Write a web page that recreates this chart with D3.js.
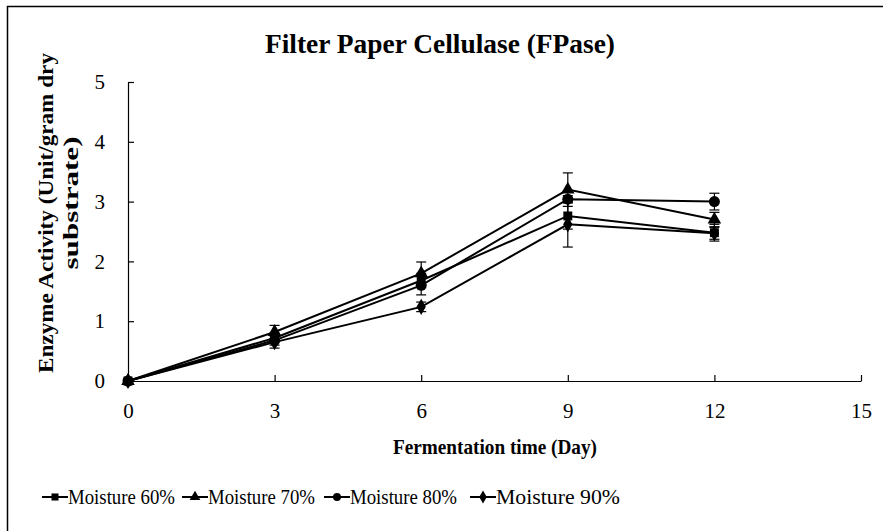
<!DOCTYPE html>
<html><head><meta charset="utf-8">
<script src="https://cdn.jsdelivr.net/npm/d3@7"></script>
<style>body{margin:0;background:#fff}svg{display:block}text{font-family:"Liberation Serif","Times New Roman",serif;fill:#000}</style>
</head><body><svg id="c" width="883" height="531"></svg>
<script>
const days = [0, 3, 6, 9, 12];
const seriesNames = ["Moisture 60%", "Moisture 70%", "Moisture 80%", "Moisture 90%"];
const symbols = ["square", "triangle", "circle", "diamond"];
const m60 = [0, 0.72, 1.68, 2.76, 2.48];
const m70 = [0, 0.82, 1.80, 3.20, 2.70];
const m80 = [0, 0.68, 1.60, 3.04, 3.00];
const m90 = [0, 0.65, 1.24, 2.62, 2.47];
const e60 = [0.03, 0.08, 0.12, 0.22, 0.14];
const e70 = [0.03, 0.11, 0.19, 0.28, 0.12];
const e80 = [0.03, 0.08, 0.16, 0.06, 0.14];
const e90 = [0.03, 0.10, 0.08, 0.38, 0.10];
const xTicks = [0, 3, 6, 9, 12, 15];
const yTicks = [0, 1, 2, 3, 4, 5];
const values = [m60, m70, m80, m90];
const errors = [e60, e70, e80, e90];

const svg = d3.select("#c");
svg.append("rect").attr("x", 7.5).attr("y", 6.5).attr("width", 900).attr("height", 600)
  .attr("fill", "none").attr("stroke", "#000").attr("stroke-width", 1.5);

const x = d3.scaleLinear().domain([0, 15]).range([128, 861]);
const y = d3.scaleLinear().domain([0, 5]).range([381, 82]);

const xAxis = svg.append("g").attr("transform", "translate(0,381)")
  .call(d3.axisBottom(x).tickValues(xTicks).tickFormat(d3.format("d")).tickSize(-6).tickPadding(22).tickSizeOuter(0));
const yAxis = svg.append("g").attr("transform", "translate(128,0)")
  .call(d3.axisLeft(y).tickValues(yTicks).tickFormat(d3.format("d")).tickSize(-6).tickPadding(23).tickSizeOuter(0));
[xAxis, yAxis].forEach(a => {
  a.select(".domain").attr("stroke", "#000").attr("stroke-width", 1.2);
  a.selectAll(".tick line").attr("stroke", "#000").attr("stroke-width", 1.2);
  a.selectAll("text").attr("font-size", 21).attr("font-family", "Liberation Serif").attr("fill", "#000");
});

svg.append("text").attr("x", 440).attr("y", 53).attr("text-anchor", "middle")
  .attr("font-size", 27).attr("font-weight", "bold")
  .attr("textLength", 350).attr("lengthAdjust", "spacingAndGlyphs").text("Filter Paper Cellulase (FPase)");
svg.append("text").attr("x", 495).attr("y", 454).attr("text-anchor", "middle")
  .attr("font-size", 21).attr("font-weight", "bold")
  .attr("textLength", 204).attr("lengthAdjust", "spacingAndGlyphs").text("Fermentation time (Day)");
const yl = svg.append("text").attr("transform", "translate(53,213) rotate(-90)")
  .attr("text-anchor", "middle").attr("font-size", 22).attr("font-weight", "bold");
yl.append("tspan").attr("x", 0).attr("dy", 0)
  .attr("textLength", 320).attr("lengthAdjust", "spacingAndGlyphs").text("Enzyme Activity (Unit/gram dry");
yl.append("tspan").attr("x", 10).attr("dy", 25)
  .attr("textLength", 133).attr("lengthAdjust", "spacingAndGlyphs").text("substrate)");

const symType = {square: d3.symbolSquare, triangle: d3.symbolTriangle, circle: d3.symbolCircle, diamond: d3.symbolDiamond};
const symSize = {square: 80, triangle: 80, circle: 95, diamond: 75};
const line = d3.line().x((d, i) => x(days[i])).y(d => y(d));

values.forEach((vals, s) => {
  const g = svg.append("g");
  g.append("path").datum(vals).attr("d", line).attr("fill", "none").attr("stroke", "#000").attr("stroke-width", 2);
  vals.forEach((v, i) => {
    const e = errors[s][i];
    const cx = x(days[i]);
    g.append("line").attr("x1", cx).attr("x2", cx).attr("y1", y(v - e)).attr("y2", y(v + e)).attr("stroke", "#000").attr("stroke-width", 1.2);
    [v - e, v + e].forEach(w => g.append("line").attr("x1", cx - 5).attr("x2", cx + 5).attr("y1", y(w)).attr("y2", y(w)).attr("stroke", "#000").attr("stroke-width", 1.2));
    g.append("path").attr("d", d3.symbol(symType[symbols[s]], symSize[symbols[s]])())
      .attr("transform", `translate(${cx},${y(v)})`).attr("fill", "#000");
  });
});

// legend
const legX = [42, 182, 324, 470];
seriesNames.forEach((n, s) => {
  const g = svg.append("g").attr("transform", `translate(${legX[s]},497)`);
  g.append("line").attr("x1", 0).attr("x2", 26).attr("y1", 0).attr("y2", 0).attr("stroke", "#000").attr("stroke-width", 2);
  g.append("path").attr("d", d3.symbol(symType[symbols[s]], 50)()).attr("transform", "translate(13,0)").attr("fill", "#000");
  g.append("text").attr("x", 26).attr("y", 7).attr("font-size", 22)
    .attr("textLength", s === 3 ? 124 : 107).attr("lengthAdjust", "spacingAndGlyphs").text(n);
});
</script></body></html>
